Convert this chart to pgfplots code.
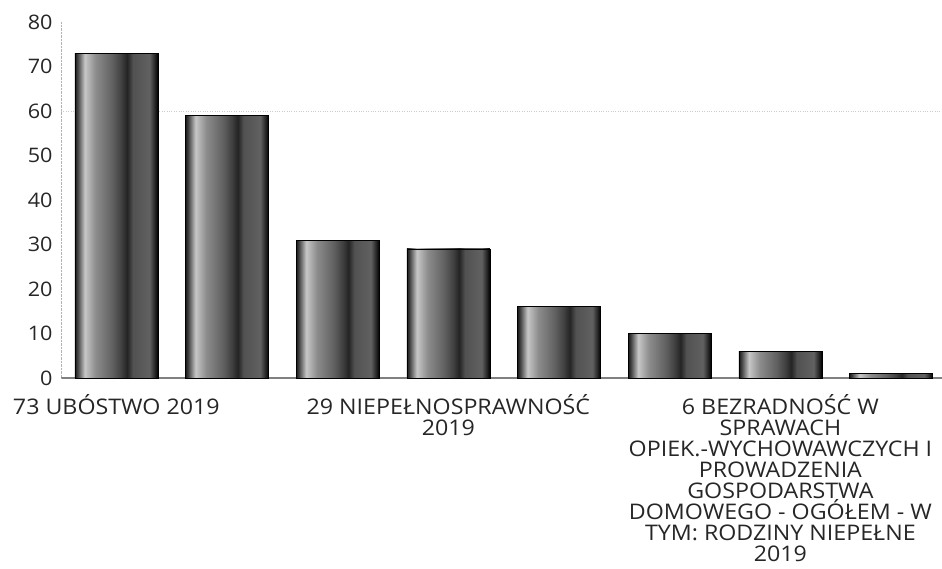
\documentclass[border=0pt]{standalone}
\usepackage{fontspec}
\setmainfont{Open Sans}[FakeStretch=1.08]
\usepackage{pgfplots}
\pgfplotsset{compat=1.18}
\pgfdeclarehorizontalshading{cyl}{100bp}{color(0bp)=(black!90); color(25bp)=(black!90); color(26.5bp)=(black!75); color(31bp)=(black!22); color(37.5bp)=(black!45); color(47.5bp)=(black!62); color(53bp)=(black!75); color(56.5bp)=(black!86); color(60bp)=(black!68); color(70bp)=(black!62); color(73.5bp)=(black!88); color(75bp)=(black); color(100bp)=(black)}
\pgfplotsset{cylbar/.style={ybar, bar width=0.75, draw=black, line width=0.6pt, shade, shading=cyl}}
\begin{document}
\begin{tikzpicture}
\begin{axis}[
  scale only axis,
  width=881pt, height=356pt,
  xmin=-0.5, xmax=7.46,
  ymin=0, ymax=80,
  ytick={0,10,...,80},
  xtick={0,3,6},
  xticklabels={{73 UBÓSTWO 2019},{29 NIEPEŁNOSPRAWNOŚĆ\\2019},{6 BEZRADNOŚĆ W\\SPRAWACH\\OPIEK.-WYCHOWAWCZYCH I\\PROWADZENIA\\GOSPODARSTWA\\DOMOWEGO - OGÓŁEM - W\\TYM: RODZINY NIEPEŁNE\\2019}},
  x tick label style={align=center, font=\fontsize{21.5}{21}\selectfont, text=black!85, yshift=-13pt},
  y tick label style={font=\fontsize{20}{21}\selectfont, text=black!85, xshift=-5pt},
  extra y ticks={60},
  extra y tick labels={},
  extra y tick style={grid=major, major grid style={gray!40, dotted, line width=0.7pt}},
  /pgf/number format/assume math mode=true,
  axis x line*=bottom,
  axis y line*=left,
  x axis line style={gray, line width=1.2pt},
  y axis line style={gray!60, densely dotted},
  major tick length=0pt,
  clip=false,
]
\addplot[cylbar] coordinates {(0,73)};
\addplot[cylbar] coordinates {(1,59)};
\addplot[cylbar] coordinates {(2,31)};
\addplot[cylbar] coordinates {(3,29)};
\addplot[cylbar] coordinates {(4,16)};
\addplot[cylbar] coordinates {(5,10)};
\addplot[cylbar] coordinates {(6,6)};
\addplot[cylbar] coordinates {(7,1)};
\coordinate (O) at (axis cs:-0.5,0);
\end{axis}
\pgfresetboundingbox
\path (O) ++(-61pt,-191pt) rectangle ++(942pt,569pt);
\end{tikzpicture}
\end{document}
